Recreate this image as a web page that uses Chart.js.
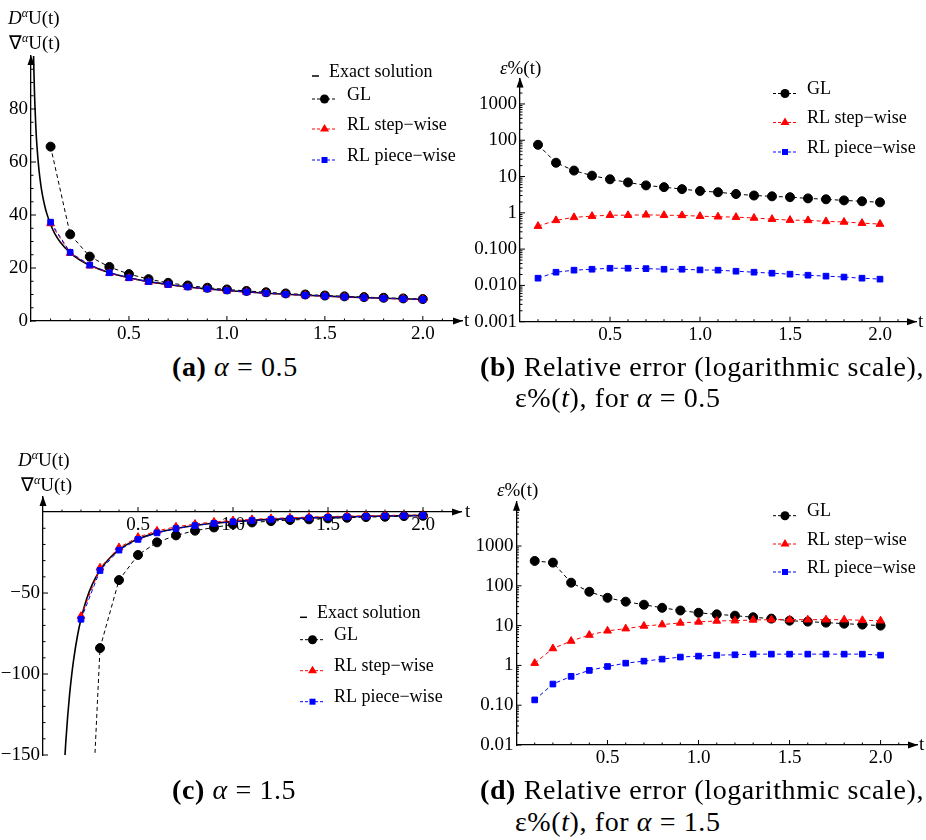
<!DOCTYPE html>
<html>
<head>
<meta charset="utf-8">
<script src="https://cdn.jsdelivr.net/npm/chart.js@4.4.1/dist/chart.umd.min.js"></script>
<style>
  body { margin: 0; background: #fff; }
  #page { position: relative; width: 926px; height: 840px; overflow: hidden; font-family: 'Liberation Serif', serif; color: #000; }
  canvas { position: absolute; }
  .lbl { position: absolute; font-size: 19px; line-height: 20px; transform: translateY(-50%); white-space: nowrap; }
  .lbl sup { font-size: 12px; line-height: 0; vertical-align: 7px; font-style: italic; }
  .cap { position: absolute; font-size: 28px; line-height: 30px; transform: translateY(-50%); white-space: nowrap; letter-spacing: 0.6px; }
</style>
</head>
<body>
<div id="page">
  <canvas id="chartA" width="480" height="345" style="left:0;top:0"></canvas>
  <canvas id="chartB" width="466" height="300" style="left:460px;top:50px"></canvas>
  <canvas id="chartC" width="480" height="340" style="left:0;top:440px"></canvas>
  <canvas id="chartD" width="466" height="305" style="left:460px;top:470px"></canvas>

  <!-- axis titles -->
  <div class="lbl" style="left:8px;top:18px"><i>D</i><sup>α</sup>U(t)</div>
  <div class="lbl" style="left:9px;top:43px">∇<sup>α</sup>U(t)</div>
  <div class="lbl" style="left:464px;top:320px">t</div>
  <div class="lbl" style="left:500px;top:68px"><i>ε</i>%(t)</div>
  <div class="lbl" style="left:918px;top:321px">t</div>
  <div class="lbl" style="left:18px;top:460px"><i>D</i><sup>α</sup>U(t)</div>
  <div class="lbl" style="left:21px;top:485px">∇<sup>α</sup>U(t)</div>
  <div class="lbl" style="left:465px;top:511px">t</div>
  <div class="lbl" style="left:497px;top:490px"><i>ε</i>%(t)</div>
  <div class="lbl" style="left:919px;top:744px">t</div>

  <!-- captions -->
  <div class="cap" style="left:172px;top:367px"><b>(a)</b> <i>α</i> = 0.5</div>
  <div class="cap" style="left:480px;top:367px"><b>(b)</b> Relative error (logarithmic scale),</div>
  <div class="cap" style="left:515px;top:398px">ε%(<i>t</i>), for <i>α</i> = 0.5</div>
  <div class="cap" style="left:172px;top:790px"><b>(c)</b> <i>α</i> = 1.5</div>
  <div class="cap" style="left:480px;top:790px"><b>(d)</b> Relative error (logarithmic scale),</div>
  <div class="cap" style="left:515px;top:822px">ε%(<i>t</i>), for <i>α</i> = 1.5</div>
</div>

<script>
// Time steps of the numerical schemes
const tSteps = [0.1, 0.2, 0.3, 0.4, 0.5, 0.6, 0.7, 0.8, 0.9, 1.0,
                1.1, 1.2, 1.3, 1.4, 1.5, 1.6, 1.7, 1.8, 1.9, 2.0];

// (a) alpha = 0.5
const exactTA = [0.0105, 0.012, 0.0135, 0.015, 0.0175, 0.02, 0.025, 0.03, 0.04, 0.05, 0.06, 0.07, 0.08,
                 0.1, 0.12, 0.15, 0.2, 0.25, 0.3, 0.4, 0.5, 0.6, 0.7, 0.8, 0.9, 1.0, 1.2, 1.4, 1.6, 1.8, 2.0];
const exactA = [112.2, 105, 99, 93.9, 86.9, 81.3, 72.7, 66.4, 57.5, 51.4, 46.9, 43.5, 40.7,
                36.4, 33.2, 29.7, 25.7, 23.0, 21.0, 18.2, 16.3, 14.85, 13.75, 12.86, 12.12, 11.5, 10.5, 9.72, 9.09, 8.57, 8.13];
const glA = [65.8, 32.7, 24.3, 20.4, 17.7, 15.8, 14.4, 13.4, 12.55, 11.9,
             11.35, 10.85, 10.4, 10.0, 9.62, 9.3, 9.02, 8.76, 8.52, 8.28];
const rlStepA = [36.8, 25.6, 20.85, 18.05, 16.15, 14.72, 13.62, 12.74, 12.0, 11.41,
                 10.88, 10.42, 10.01, 9.65, 9.33, 9.03, 8.77, 8.52, 8.3, 8.09];
const rlPieceA = [37.3, 25.9, 21.1, 18.2, 16.3, 14.85, 13.75, 12.86, 12.12, 11.5,
                  10.96, 10.5, 10.09, 9.72, 9.39, 9.09, 8.82, 8.57, 8.34, 8.13];

// (b) relative error %, alpha = 0.5
const errGlB = [75, 24, 14.6, 10.6, 8.4, 6.9, 5.7, 5.1, 4.5, 4.0,
                3.7, 3.3, 3.0, 2.85, 2.7, 2.5, 2.36, 2.2, 2.08, 1.95];
const errStepB = [0.43, 0.62, 0.75, 0.81, 0.86, 0.86, 0.88, 0.86, 0.85, 0.81,
                  0.78, 0.76, 0.72, 0.67, 0.63, 0.62, 0.58, 0.56, 0.52, 0.49];
const errPieceB = [0.0158, 0.0231, 0.0263, 0.0279, 0.0297, 0.0297, 0.029, 0.0279, 0.0279, 0.0267,
                   0.0263, 0.0246, 0.0231, 0.0217, 0.0204, 0.0191, 0.018, 0.017, 0.0158, 0.0149];

// (c) alpha = 1.5
const exactTC = [0.11, 0.12, 0.13, 0.14, 0.15, 0.16, 0.18, 0.2, 0.23, 0.26, 0.3, 0.35, 0.4, 0.45,
                 0.5, 0.6, 0.7, 0.8, 0.9, 1.0, 1.2, 1.4, 1.6, 1.8, 2.0];
const exactC = [-161.7, -141.9, -125.9, -112.6, -101.6, -92.2, -77.3, -66.0, -53.5, -44.5, -35.9, -28.5, -23.3, -19.5,
                -16.7, -12.7, -10.1, -8.25, -6.91, -5.9, -4.49, -3.56, -2.92, -2.44, -2.09];
const tC = [0.2, 0.3, 0.4, 0.5, 0.6, 0.7, 0.8, 0.9, 1.0,
            1.1, 1.2, 1.3, 1.4, 1.5, 1.6, 1.7, 1.8, 1.9, 2.0];
const glC = [-330, -84, -42, -26.5, -18.7, -14.4, -11.5, -9.5, -7.6,
             -6.4, -5.6, -4.9, -4.5, -3.9, -3.5, -3.1, -2.9, -2.5, -2.3];
const rlStepC = [-64.3, -34.4, -21.9, -15.5, -11.6, -9.1, -7.4, -6.1, -5.2,
                 -4.5, -3.9, -3.5, -3.1, -2.8, -2.5, -2.3, -2.1, -1.9, -1.8];
const rlPieceC = [-66.2, -36.1, -23.5, -16.9, -12.85, -10.2, -8.37, -7.02, -6.0,
                  -5.21, -4.57, -4.06, -3.63, -3.27, -2.98, -2.72, -2.49, -2.3, -2.13];

// (d) relative error %, alpha = 1.5
const errGlD = [422, 383, 120, 71, 50, 40, 33.5, 28, 24, 21,
                19.2, 17.8, 16.2, 15, 13.3, 12.6, 11.9, 11.2, 10.6, 10];
const errStepD = [1.14, 2.66, 4.1, 5.8, 7.4, 8.4, 9.8, 10.6, 11.7, 12.4,
                  13.1, 13.3, 13.9, 14.1, 14.1, 14.1, 14.1, 14.1, 13.6, 13.3];
const errPieceD = [0.136, 0.34, 0.53, 0.75, 0.94, 1.14, 1.28, 1.44, 1.62, 1.71,
                   1.81, 1.85, 1.92, 1.92, 1.92, 1.92, 1.92, 1.92, 1.92, 1.81];

// Tick values and labels
const xTicks = [0.5, 1.0, 1.5, 2.0];
const xTickLabels = ['0.5', '1.0', '1.5', '2.0'];
const yTicksA = [0, 20, 40, 60, 80];
const yLabelsA = ['0', '20', '40', '60', '80'];
const yTicksB = [0.001, 0.01, 0.1, 1, 10, 100, 1000];
const yLabelsB = ['0.001', '0.010', '0.100', '1', '10', '100', '1000'];
const yTicksC = [-150, -100, -50];
const yLabelsC = ['\u2212150', '\u2212100', '\u221250'];
const yTicksD = [0.01, 0.1, 1, 10, 100, 1000];
const yLabelsD = ['0.01', '0.10', '1', '10', '100', '1000'];

// Minor tick helpers
function linearMinor(from, to, step, majors) {
    const out = [];
    for (let v = from; v <= to + 1e-9; v += step) {
        const r = Math.round(v * 1000) / 1000;
        if (!majors.some(m => Math.abs(m - r) < 1e-6)) out.push(r);
    }
    return out;
}
function logMinor(fromExp, toExp) {
    const out = [];
    for (let e = fromExp; e <= toExp; e++) {
        for (let k = 2; k <= 9; k++) out.push(k * Math.pow(10, e));
    }
    return out;
}

// Series styles
const exactStyle = { borderColor: '#000', borderWidth: 1.6, pointRadius: 0, cubicInterpolationMode: 'monotone', order: 4 };
const glStyle = { borderColor: '#000', backgroundColor: '#000', borderWidth: 1, borderDash: [4, 3], pointStyle: 'circle', pointRadius: 4.5, order: 3 };
const stepStyle = { borderColor: '#ff0000', backgroundColor: '#ff0000', borderWidth: 1, borderDash: [4, 3], pointStyle: 'triangle', pointRadius: 4.5, order: 2 };
const pieceStyle = { borderColor: '#0000ff', backgroundColor: '#0000ff', borderWidth: 1, borderDash: [4, 3], pointStyle: 'rect', pointRadius: 4, order: 1 };

function series(label, xs, ys, style) {
    return Object.assign({ label, data: xs.map((x, i) => ({ x, y: ys[i] })) }, style);
}

const tickFont = { family: 'Liberation Serif', size: 19 };

// Mathematica-like axes: inward ticks, arrowheads, and the inline legend
const mathAxes = {
    id: 'mathAxes',
    afterDraw(chart, args, opts) {
        const { ctx, chartArea } = chart;
        const xs = chart.scales.x, ys = chart.scales.y;
        const axisY = opts.xAxisAt == null ? chartArea.bottom : ys.getPixelForValue(opts.xAxisAt);
        const axisX = chartArea.left;
        const line = (x1, y1, x2, y2) => { ctx.beginPath(); ctx.moveTo(x1, y1); ctx.lineTo(x2, y2); ctx.stroke(); };

        ctx.save();
        ctx.strokeStyle = '#000';
        ctx.fillStyle = '#000';
        ctx.lineWidth = 1;

        xs.ticks.forEach(t => { const p = xs.getPixelForValue(t.value); line(p, axisY, p, axisY - 5); });
        (opts.xMinor || []).forEach(v => { const p = xs.getPixelForValue(v); line(p, axisY, p, axisY - 2.5); });
        ys.ticks.forEach(t => {
            const p = ys.getPixelForValue(t.value);
            if (p >= chartArea.top && p <= chartArea.bottom) line(axisX, p, axisX + 5, p);
        });
        (opts.yMinor || []).forEach(v => {
            const p = ys.getPixelForValue(v);
            if (p >= chartArea.top + 8 && p <= chartArea.bottom) line(axisX, p, axisX + 2.5, p);
        });

        // arrowheads
        ctx.beginPath();
        ctx.moveTo(chartArea.right + 1, axisY);
        ctx.lineTo(chartArea.right - 9, axisY - 3.5);
        ctx.lineTo(chartArea.right - 9, axisY + 3.5);
        ctx.closePath();
        ctx.fill();
        ctx.beginPath();
        ctx.moveTo(axisX, chartArea.top - 1);
        ctx.lineTo(axisX - 3.5, chartArea.top + 9);
        ctx.lineTo(axisX + 3.5, chartArea.top + 9);
        ctx.closePath();
        ctx.fill();

        // legend
        const lg = opts.legend;
        ctx.font = '18px "Liberation Serif"';
        ctx.textBaseline = 'middle';
        chart.data.datasets.forEach((ds, i) => {
            const ty = lg.rows[i];
            const sy = ty + 4;
            ctx.setLineDash([]);
            if (ds.pointRadius === 0) {
                ctx.strokeStyle = ds.borderColor;
                ctx.lineWidth = 1.5;
                line(lg.x0, sy, lg.x0 + 7, sy);
                ctx.fillStyle = '#000';
                ctx.fillText(ds.label, lg.exactTextX, ty);
                return;
            }
            ctx.strokeStyle = ds.borderColor;
            ctx.lineWidth = 1;
            ctx.setLineDash([3, 2]);
            line(lg.x0, sy, lg.x1, sy);
            ctx.setLineDash([]);
            const cx = (lg.x0 + lg.x1) / 2;
            ctx.fillStyle = ds.backgroundColor;
            ctx.beginPath();
            if (ds.pointStyle === 'circle') {
                ctx.arc(cx, sy, 4.5, 0, Math.PI * 2);
            } else if (ds.pointStyle === 'triangle') {
                ctx.moveTo(cx, sy - 5);
                ctx.lineTo(cx - 4.5, sy + 2.5);
                ctx.lineTo(cx + 4.5, sy + 2.5);
                ctx.closePath();
            } else {
                ctx.rect(cx - 3, sy - 3, 6, 6);
            }
            ctx.fill();
            ctx.fillStyle = '#000';
            ctx.fillText(ds.label, lg.textX, ty);
        });
        ctx.restore();
    }
};

function makeChart(id, cfg) {
    return new Chart(document.getElementById(id), {
        type: 'line',
        data: { datasets: cfg.datasets },
        options: {
            responsive: false,
            animation: false,
            devicePixelRatio: 1,
            layout: { padding: cfg.padding },
            plugins: {
                legend: { display: false },
                tooltip: { enabled: false },
                mathAxes: cfg.axes
            },
            scales: {
                x: {
                    type: 'linear',
                    min: 0,
                    max: 2.2,
                    bounds: 'data',
                    position: cfg.xPosition || 'bottom',
                    grid: { display: false, drawTicks: false },
                    border: { display: true, color: '#000', width: 1.3 },
                    ticks: {
                        color: '#000', font: tickFont, padding: 2, autoSkip: false, maxRotation: 0,
                        callback: (v, i) => xTickLabels[i]
                    },
                    afterBuildTicks: s => { s.ticks = xTicks.map(v => ({ value: v })); },
                    afterFit: s => { s.height = cfg.xHeight; }
                },
                y: {
                    type: cfg.yType,
                    min: cfg.yMin,
                    max: cfg.yMax,
                    bounds: 'data',
                    grid: { display: false, drawTicks: false },
                    border: { display: true, color: '#000', width: 1.3 },
                    ticks: {
                        color: '#000', font: tickFont, padding: 3, autoSkip: false,
                        callback: (v, i) => cfg.yLabels[i]
                    },
                    afterBuildTicks: s => { s.ticks = cfg.yTicks.map(v => ({ value: v })); },
                    afterFit: s => { s.width = cfg.yWidth; }
                }
            }
        },
        plugins: [mathAxes]
    });
}

const xMinor = linearMinor(0.1, 2.1, 0.1, xTicks);

// (a)
makeChart('chartA', {
    datasets: [
        series('Exact solution', exactTA, exactA, exactStyle),
        series('GL', tSteps, glA, glStyle),
        series('RL step\u2212wise', tSteps, rlStepA, stepStyle),
        series('RL piece\u2212wise', tSteps, rlPieceA, pieceStyle)
    ],
    padding: { left: 0, right: 18, top: 56, bottom: 0 },
    yType: 'linear', yMin: 0, yMax: 100,
    yTicks: yTicksA, yLabels: yLabelsA,
    yWidth: 31, xHeight: 24,
    axes: {
        xMinor, yMinor: linearMinor(5, 95, 5, yTicksA),
        legend: { x0: 312, x1: 337, textX: 347, exactTextX: 329, rows: [72, 95, 125, 156] }
    }
});

// (b)
makeChart('chartB', {
    datasets: [
        series('GL', tSteps, errGlB, glStyle),
        series('RL step\u2212wise', tSteps, errStepB, stepStyle),
        series('RL piece\u2212wise', tSteps, errPieceB, pieceStyle)
    ],
    padding: { left: 0, right: 10, top: 28.6, bottom: 0 },
    yType: 'logarithmic', yMin: 0.001, yMax: 5000,
    yTicks: yTicksB, yLabels: yLabelsB,
    yWidth: 60, xHeight: 28.3,
    axes: {
        xMinor, yMinor: logMinor(-3, 3),
        legend: { x0: 313, x1: 337, textX: 347, rows: [39.5, 68.5, 98] }
    }
});

// (c)
makeChart('chartC', {
    datasets: [
        series('Exact solution', exactTC, exactC, exactStyle),
        series('GL', tC, glC, glStyle),
        series('RL step\u2212wise', tC, rlStepC, stepStyle),
        series('RL piece\u2212wise', tC, rlPieceC, pieceStyle)
    ],
    padding: { left: 0, right: 19, top: 57, bottom: 25 },
    xPosition: { y: 0 },
    yType: 'linear', yMin: -150, yMax: 9.3,
    yTicks: yTicksC, yLabels: yLabelsC,
    yWidth: 43, xHeight: 0,
    axes: {
        xAxisAt: 0,
        xMinor, yMinor: linearMinor(-140, 0, 10, yTicksC.concat([0])),
        legend: { x0: 300, x1: 325, textX: 334, exactTextX: 317, rows: [173.3, 195.7, 226.7, 257.7] }
    }
});

// (d)
makeChart('chartD', {
    datasets: [
        series('GL', tSteps, errGlD, glStyle),
        series('RL step\u2212wise', tSteps, errStepD, stepStyle),
        series('RL piece\u2212wise', tSteps, errPieceD, pieceStyle)
    ],
    padding: { left: 0, right: 9, top: 31.7, bottom: 0 },
    yType: 'logarithmic', yMin: 0.01, yMax: 13000,
    yTicks: yTicksD, yLabels: yLabelsD,
    yWidth: 56.5, xHeight: 30,
    axes: {
        xMinor, yMinor: logMinor(-2, 4),
        legend: { x0: 313, x1: 337, textX: 347, rows: [41.7, 70, 98] }
    }
});
</script>
</body>
</html>
